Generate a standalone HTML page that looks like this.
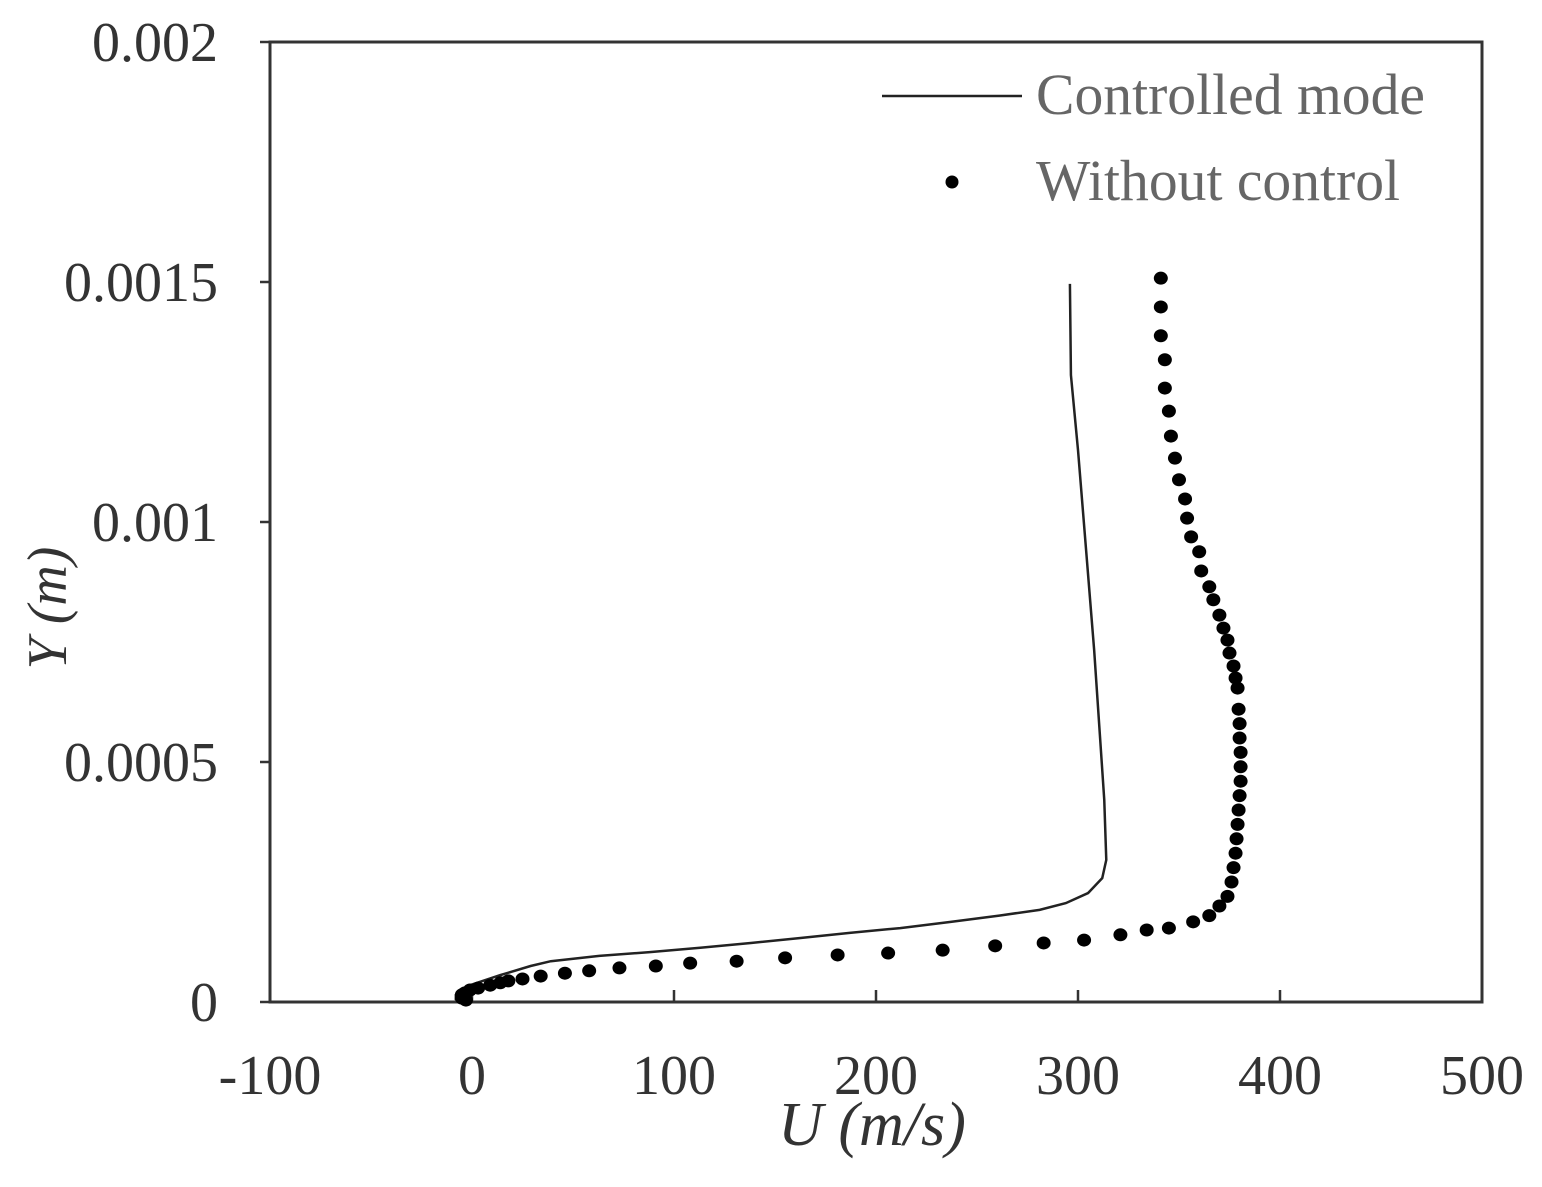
<!DOCTYPE html>
<html><head><meta charset="utf-8"><style>
html,body{margin:0;padding:0;background:#fff;}
svg text{font-family:"Liberation Serif",serif;}
</style></head><body>
<svg id="chart" width="1542" height="1182" viewBox="0 0 1542 1182" xmlns="http://www.w3.org/2000/svg">
<rect x="0" y="0" width="1542" height="1182" fill="#fff"/>
<g id="axes"></g>
<g id="series"></g>
<g>
<line x1="882" y1="96" x2="1022" y2="96" stroke="#222" stroke-width="2.5"/>
<text x="1036" y="114" font-size="58" fill="#666" textLength="389" lengthAdjust="spacingAndGlyphs">Controlled mode</text>
<circle cx="952" cy="182" r="6.5" fill="#000"/>
<text x="1036" y="200" font-size="58" fill="#666" textLength="364" lengthAdjust="spacingAndGlyphs">Without control</text>
</g>
<text x="872" y="1145" font-size="62" font-style="italic" text-anchor="middle" fill="#333">U (m/s)</text>
<text transform="translate(66,608) rotate(-90)" font-size="56" font-style="italic" text-anchor="middle" fill="#333">Y (m)</text>
</svg>
<script>
const xTicks=[-100,0,100,200,300,400,500];
const yTicks=[0,0.0005,0.001,0.0015,0.002];
const yTickLabels=["0","0.0005","0.001","0.0015","0.002"];
const ctrlU=[296,296.5,300,304,308,311,313,314,312,305,294,281,261,237,212,187,162,138,113,88,63,39,29,14,4,-1,-6,-8,-8];
const ctrlY=[0.001496,0.001306,0.00115,0.000942,0.000733,0.000546,0.000421,0.000296,0.000258,0.000227,0.000206,0.000192,0.00018,0.000167,0.000154,0.000144,0.000133,0.000123,0.000113,0.000104,0.000096,0.000085,0.000075,0.000056,0.000042,0.000035,0.000025,0.000015,0.000004];
const noCtrlU=[341,341,341,343,343,345,346,348,350,353,354,356,360,361,365,367,370,372,374,375,377,378,379,379.5,380,380,380.5,380.5,380.5,380,379.5,379,378.5,378,377,376,374,370,365,357,345,334,321,303,283,259,233,206,181,155,131,108,91,73,58,46,34,25,18,14,9,3,-1,-3.5,-5,-5,-3];
const noCtrlY=[0.001508,0.001448,0.001388,0.001338,0.001279,0.001231,0.001179,0.001133,0.001088,0.001048,0.001008,0.000969,0.000938,0.000898,0.000865,0.000838,0.000806,0.000779,0.000754,0.000727,0.0007,0.000675,0.000654,0.00061,0.00058,0.00055,0.00052,0.00049,0.00046,0.00043,0.0004,0.00037,0.00034,0.00031,0.00028,0.00025,0.00022,0.0002,0.00018,0.000167,0.000154,0.00015,0.00014,0.000129,0.000123,0.000117,0.000108,0.000102,0.000098,0.000092,0.000085,0.000081,0.000075,0.000071,0.000065,0.00006,0.000054,0.000048,0.000044,0.00004,0.000035,0.000029,0.000025,0.000019,0.000015,0.000008,0.000004];
const L=270,R=1482,T=42,B=1002;
const xs=v=>L+(v+100)/600*(R-L);
const ys=v=>B-v/0.002*(B-T);
const NS="http://www.w3.org/2000/svg";
function mk(tag,parent){const e=document.createElementNS(NS,tag);parent.appendChild(e);return e;}
const ax=document.getElementById('axes');
const frame=mk('rect',ax);


frame.setAttribute('x',L);frame.setAttribute('y',T);frame.setAttribute('width',R-L);frame.setAttribute('height',B-T);
frame.setAttribute('fill','none');frame.setAttribute('stroke','#333');frame.setAttribute('stroke-width','3');
xTicks.forEach(v=>{
 const t=mk('line',ax);
 
 
 t.setAttribute('x1',xs(v));t.setAttribute('x2',xs(v));t.setAttribute('y1',B);t.setAttribute('y2',B-12);
 t.setAttribute('stroke','#333');t.setAttribute('stroke-width','2.5');
 const l=mk('text',ax);
 
 
 l.setAttribute('x',xs(v));l.setAttribute('y',1094);l.setAttribute('font-size','56');l.setAttribute('text-anchor','middle');l.setAttribute('fill','#333');
 l.textContent=String(v);
});
yTicks.forEach((v,i)=>{
 const t=mk('line',ax);
 
 
 t.setAttribute('x1',L);t.setAttribute('x2',L-10);t.setAttribute('y1',ys(v));t.setAttribute('y2',ys(v));
 t.setAttribute('stroke','#333');t.setAttribute('stroke-width','2.5');
 const l=mk('text',ax);
 
 
 l.setAttribute('x',218);l.setAttribute('y',ys(v)+19);l.setAttribute('font-size','56');l.setAttribute('text-anchor','end');l.setAttribute('fill','#333');
 l.textContent=yTickLabels[i];
});
const sg=document.getElementById('series');
const pl=mk('polyline',sg);


pl.setAttribute('points',ctrlU.map((u,i)=>xs(u)+','+ys(ctrlY[i])).join(' '));
pl.setAttribute('fill','none');pl.setAttribute('stroke','#222');pl.setAttribute('stroke-width','2.5');
noCtrlU.forEach((u,i)=>{
 const c=mk('ellipse',sg);
 
 
 c.setAttribute('cx',xs(u));c.setAttribute('cy',ys(noCtrlY[i]));c.setAttribute('rx',7);c.setAttribute('ry',6.5);c.setAttribute('fill','#000');
});
</script>
</body></html>
